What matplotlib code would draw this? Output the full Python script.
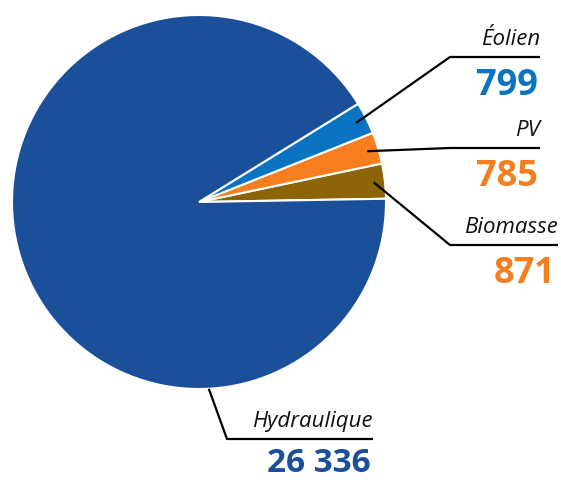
import numpy as np
import matplotlib.pyplot as plt

# Données (puissance par filière)
filieres = ['Biomasse', 'PV', 'Éolien', 'Hydraulique']
valeurs = [871, 785, 799, 26336]
etiquettes_val = ['871', '785', '799', '26 336']
couleurs = ['#8b6508', '#f47e20', '#0a74c2', '#1b4f9a']
couleurs_val = ['#f47e20', '#f47e20', '#0a74c2', '#1b4f9a']

W, H = 561, 481
fig = plt.figure(figsize=(W / 100, H / 100), dpi=100)
ax = fig.add_axes([0, 0, 1, 1])

cx, cy, R = 199, H - 203, 187
wedges, _ = ax.pie(valeurs, colors=couleurs, startangle=1, counterclock=True,
                   center=(cx, cy), radius=R, frame=True,
                   wedgeprops=dict(edgecolor='white', linewidth=1.5))
ax.set_xlim(0, W)
ax.set_ylim(0, H)
ax.set_aspect('equal')
ax.axis('off')

# positions des étiquettes (pixels, y vers le bas)
coudes = [(450, 246), (450, 149), (450, 58), (227, 440)]
fins = [558, 540, 540, 373]
rayons = [0.94, 0.94, 0.94, 1.0]
tailles = [26, 26, 26, 24]
decal = [37, 37, 37, 32]

for i, w in enumerate(wedges):
    a = np.deg2rad((w.theta1 + w.theta2) / 2)
    if filieres[i] == 'Hydraulique':
        a = np.deg2rad(-87)
    x0 = cx + rayons[i] * R * np.cos(a)
    y0 = cy + rayons[i] * R * np.sin(a)
    bx, by = coudes[i]
    ax.plot([x0, bx, fins[i]], [y0, H - by, H - by], color='black', lw=1.6,
            solid_capstyle='butt', zorder=5)
    ax.text(fins[i], H - by + 13, filieres[i], ha='right', va='baseline',
            fontsize=16, style='italic', family='Open Sans', color='#111111')
    ax.text(fins[i] - 2, H - by - decal[i], etiquettes_val[i], ha='right', va='baseline',
            fontsize=tailles[i], fontweight='bold', family='Open Sans', color=couleurs_val[i])

fig.savefig('out.png', dpi=100)
